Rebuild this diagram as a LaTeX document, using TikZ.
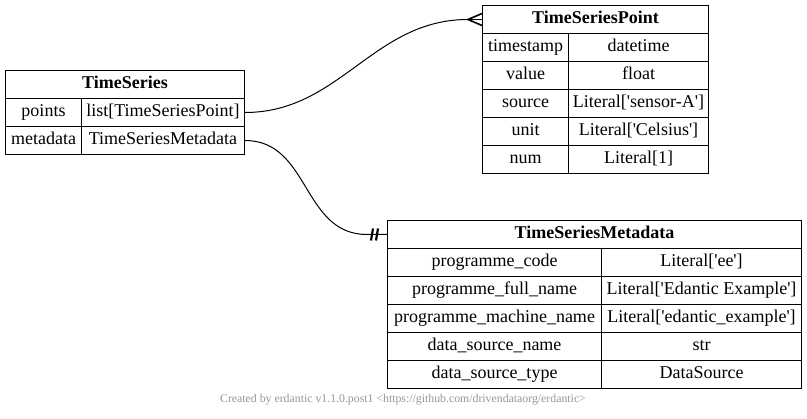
\documentclass[tikz,border=0pt]{standalone}
\usepackage{fontspec}
\usetikzlibrary{positioning}
\newfontfamily\erdfont{Liberation Serif}
\definecolor{footgray}{RGB}{150,150,150}

\tikzset{
  cell/.style={draw, line width=1pt, rectangle, inner sep=0pt, anchor=north west,
    minimum height=28pt, text height=12.5pt, text depth=4pt,
    font=\erdfont\fontsize{18}{22}\selectfont},
  headcell/.style={cell, font=\erdfont\fontsize{18}{22}\selectfont\bfseries},
  rel/.style={line width=1pt},
  crow/.style={line width=1.6pt},
  mark bar/.style={line width=2.2pt},
}

\begin{document}
\begin{tikzpicture}[x=1pt, y=-1pt]
\useasboundingbox (0,0) rectangle (807,419);

% TimeSeries
\node[headcell, minimum width=239pt] (ts) at (5,70) {TimeSeries};
\node[cell, minimum width=76pt] (ts-points) at (5,98) {points};
\node[cell, minimum width=163pt] (ts-points-t) at (81,98) {list[TimeSeriesPoint]};
\node[cell, minimum width=76pt] (ts-meta) at (5,126) {metadata};
\node[cell, minimum width=163pt] (ts-meta-t) at (81,126) {TimeSeriesMetadata};

% TimeSeriesPoint
\node[headcell, minimum width=226pt] (tsp) at (482,5) {TimeSeriesPoint};
\foreach \fname/\ftype [count=\i] in {timestamp/datetime, value/float,
    source/Literal['sensor-A'], unit/Literal['Celsius'], num/Literal[1]} {
  \node[cell, minimum width=86pt] (tsp-\i) at (482,{5+28*\i}) {\fname};
  \node[cell, minimum width=140pt] (tsp-\i-t) at (568,{5+28*\i}) {\ftype};
}

% TimeSeriesMetadata
\node[headcell, minimum width=414pt] (tsm) at (387,220) {TimeSeriesMetadata};
\foreach \fname/\ftype [count=\i] in {programme\_code/Literal['ee'],
    programme\_full\_name/Literal['Edantic Example'],
    programme\_machine\_name/Literal['edantic\_example'],
    data\_source\_name/str, data\_source\_type/DataSource} {
  \node[cell, minimum width=214pt] (tsm-\i) at (387,{220+28*\i}) {\fname};
  \node[cell, minimum width=200pt] (tsm-\i-t) at (601,{220+28*\i}) {\ftype};
}

% relations
\coordinate[left=14pt of tsp.west] (tsp-end);
\draw[rel] (ts-points-t.east) .. controls +(95,0) and +(-95,0) .. (tsp-end);
\draw[rel] (tsp-end) -- (tsp.west);
\draw[crow] ([yshift=6pt]tsp.west) -- (tsp-end) -- ([yshift=-6pt]tsp.west);

\coordinate[left=20pt of tsm.west] (tsm-end);
\draw[rel] (ts-meta-t.east) .. controls +(65,0) and +(-65,0) .. (tsm-end) -- (tsm.west);
\draw[mark bar] ([xshift=-16pt,yshift=-6pt]tsm.west) -- ([xshift=-14pt,yshift=6pt]tsm.west);
\draw[mark bar] ([xshift=-11pt,yshift=-6pt]tsm.west) -- ([xshift=-9pt,yshift=6pt]tsm.west);

% footer
\node[text=footgray, font=\erdfont\fontsize{11.8}{14}\selectfont] (credit) at (403,400)
  {Created by erdantic v1.1.0.post1 <https://github.com/drivendataorg/erdantic>};
\end{tikzpicture}
\end{document}
